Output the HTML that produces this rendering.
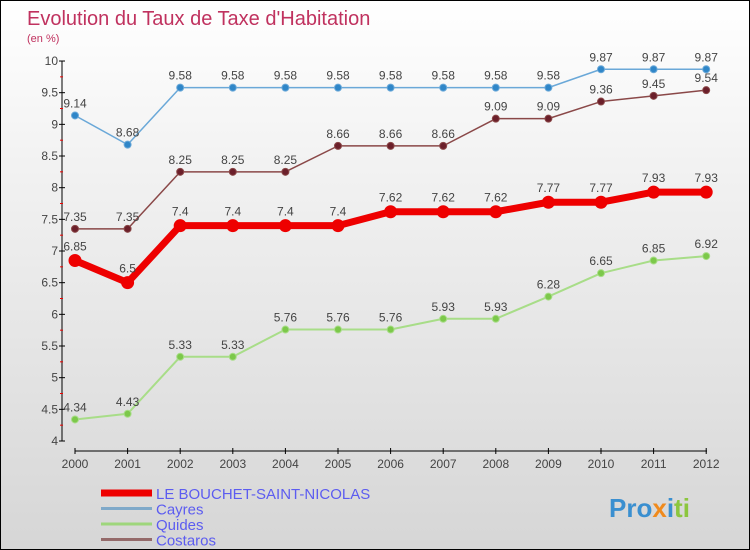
<!DOCTYPE html>
<html><head><meta charset="utf-8"><style>
body{margin:0}
#c{width:748px;height:548px;border:1px solid #000;background:linear-gradient(#fff 0%,#f2f2f2 30%,#d6d6d6 100%);position:relative;font-family:"Liberation Sans",sans-serif}
</style></head><body>
<div id="c">
<svg id="s" width="748" height="548" style="position:absolute;left:0;top:0" font-family="Liberation Sans, sans-serif">
<text x="26" y="24" font-size="20" fill="#c0325f">Evolution du Taux de Taxe d'Habitation</text>
<text x="26" y="41" font-size="11" fill="#c0325f">(en %)</text>
<g id="g"></g>
<text x="608" y="516" font-size="26" font-weight="bold"><tspan fill="#3a8fd0">Pro</tspan><tspan fill="#f08a1c">x</tspan><tspan fill="#3a8fd0">i</tspan><tspan fill="#8cc63f">ti</tspan></text>
</svg>
</div>
<script>
const years=[2000,2001,2002,2003,2004,2005,2006,2007,2008,2009,2010,2011,2012];
const bouchet=[6.85,6.5,7.4,7.4,7.4,7.4,7.62,7.62,7.62,7.77,7.77,7.93,7.93];
const cayres=[9.14,8.68,9.58,9.58,9.58,9.58,9.58,9.58,9.58,9.58,9.87,9.87,9.87];
const quides=[4.34,4.43,5.33,5.33,5.76,5.76,5.76,5.93,5.93,6.28,6.65,6.85,6.92];
const costaros=[7.35,7.35,8.25,8.25,8.25,8.66,8.66,8.66,9.09,9.09,9.36,9.45,9.54];
const yTicks=[4,4.5,5,5.5,6,6.5,7,7.5,8,8.5,9,9.5,10];
const names=["LE BOUCHET-SAINT-NICOLAS","Cayres","Quides","Costaros"];
const NS="http://www.w3.org/2000/svg";
const g=document.getElementById('g');
const X=i=>74+i*52.6, Y=v=>440-(v-4)*63.33;
function mk(t,a,p){const e=document.createElementNS(NS,t);for(const k in a)e.setAttribute(k,a[k]);(p||g).appendChild(e);return e;}
let e;
e=mk('line',{x1:61,y1:Y(10),x2:61,y2:Y(4),stroke:'#000'});


e=mk('line',{x1:74,y1:450,x2:706,y2:450,stroke:'#000'});


yTicks.forEach((v,i)=>{
 mk('line',{x1:58,x2:64,y1:Y(v),y2:Y(v),stroke:'#000'});
 if(i<yTicks.length-1)mk('line',{x1:59,x2:62,y1:Y(v+0.25),y2:Y(v+0.25),stroke:'#e00'});
 e=mk('text',{x:57,y:Y(v)+4,'text-anchor':'end','font-size':12,fill:'#444'});e.textContent=v;
 
 
});
years.forEach((y,i)=>{
 mk('line',{x1:X(i),x2:X(i),y1:447,y2:453,stroke:'#000'});
 e=mk('text',{x:X(i),y:467,'text-anchor':'middle','font-size':12,fill:'#444'});e.textContent=y;
 
 
});
function series(d,col,w,r,dot,name,lblOff){
 const l=mk('polyline',{points:d.map((v,i)=>X(i)+','+Y(v)).join(' '),fill:'none',stroke:col,'stroke-width':w,'stroke-linejoin':'round'});
 
 
 d.forEach((v,i)=>{
  const c=mk('circle',{cx:X(i),cy:Y(v),r:r,fill:dot,stroke:col,'stroke-width':1});
  
  
  const t=mk('text',{x:X(i),y:Y(v)-lblOff,'text-anchor':'middle','font-size':12,fill:'#444'});t.textContent=v;
  
  
 });
}
series(cayres,'#6aa8d8',1.5,3.5,'#2f86c8','cayres',8);
series(quides,'#a8dd88',2,3.5,'#7cc84a','quides',8);
series(costaros,'#8a4848',1.5,3.5,'#6b1f2a','costaros',8);
series(bouchet,'#ee0000',7,6,'#ee0000','bouchet',10);
const lg=[['#ee0000',7],['#7fa9c9',3],['#9ed67c',3],['#946a6a',3]];
names.forEach((n,i)=>{
 const y=492+i*15.5;
 e=mk('line',{x1:100,x2:151,y1:y,y2:y,stroke:lg[i][0],'stroke-width':lg[i][1]});
 
 
 e=mk('text',{x:155,y:y+6,'font-size':15,fill:'#5c5cf0'});e.textContent=n;
 
 
});
</script>
</body></html>
